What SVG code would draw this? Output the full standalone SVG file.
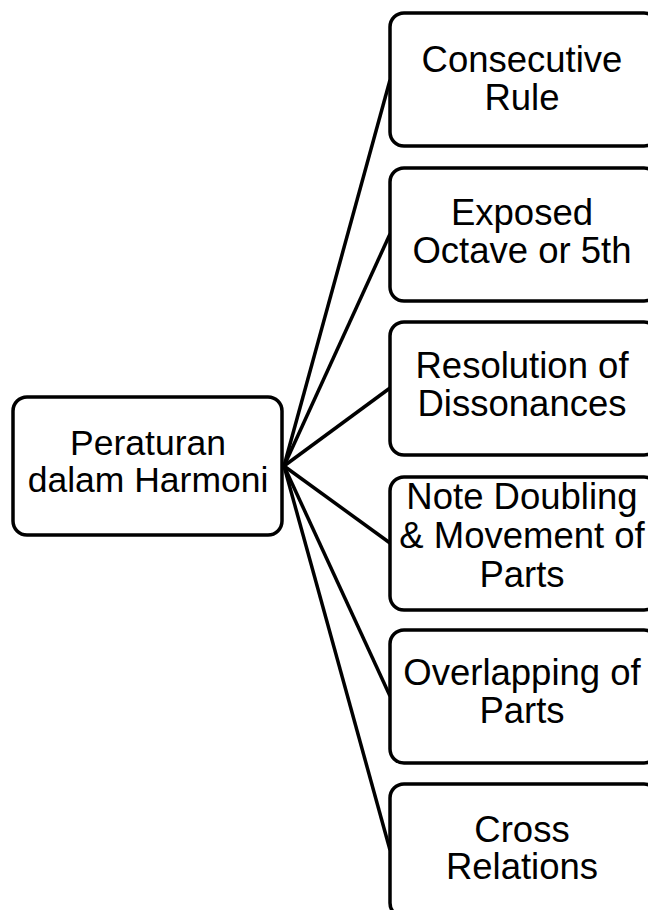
<svg xmlns="http://www.w3.org/2000/svg" width="648" height="910" viewBox="0 0 648 910">
<style>
.box{fill:#fff;stroke:#000;stroke-width:3.5}
.t{font-family:"Liberation Sans",Arial,sans-serif;font-size:36.5px;fill:#000;text-anchor:middle}
.r{font-size:35.5px}
.c{stroke:#000;stroke-width:3.5;fill:none}
</style>
<rect width="648" height="910" fill="#fff"/>
<g id="connectors">
<line class="c" x1="284" y1="466" x2="390" y2="80"/>
<line class="c" x1="284" y1="466" x2="390" y2="234"/>
<line class="c" x1="284" y1="466" x2="390" y2="388"/>
<line class="c" x1="284" y1="466" x2="390" y2="543"/>
<line class="c" x1="284" y1="466" x2="390" y2="696"/>
<line class="c" x1="284" y1="466" x2="390" y2="850"/>
</g>
<g id="root">
<rect class="box" x="13" y="397" width="269" height="138" rx="14"/>
<text class="t r" x="148" y="455">Peraturan</text>
<text class="t r" x="148" y="492">dalam Harmoni</text>
</g>
<g id="n1">
<rect class="box" x="390" y="13" width="268" height="133" rx="14"/>
<text class="t" x="522" y="72">Consecutive</text>
<text class="t" x="522" y="110">Rule</text>
</g>
<g id="n2">
<rect class="box" x="390" y="168" width="268" height="133" rx="14"/>
<text class="t" x="522" y="225">Exposed</text>
<text class="t" x="522" y="263">Octave or 5th</text>
</g>
<g id="n3">
<rect class="box" x="390" y="322" width="268" height="133" rx="14"/>
<text class="t" x="522" y="378">Resolution of</text>
<text class="t" x="522" y="416">Dissonances</text>
</g>
<g id="n4">
<rect class="box" x="390" y="477" width="268" height="133" rx="14"/>
<text class="t" x="522" y="509">Note Doubling</text>
<text class="t" x="522" y="548">&amp; Movement of</text>
<text class="t" x="522" y="587">Parts</text>
</g>
<g id="n5">
<rect class="box" x="390" y="630" width="268" height="133" rx="14"/>
<text class="t" x="522" y="685">Overlapping of</text>
<text class="t" x="522" y="723">Parts</text>
</g>
<g id="n6">
<rect class="box" x="390" y="784" width="268" height="133" rx="14"/>
<text class="t" x="522" y="842">Cross</text>
<text class="t" x="522" y="879">Relations</text>
</g>
</svg>
